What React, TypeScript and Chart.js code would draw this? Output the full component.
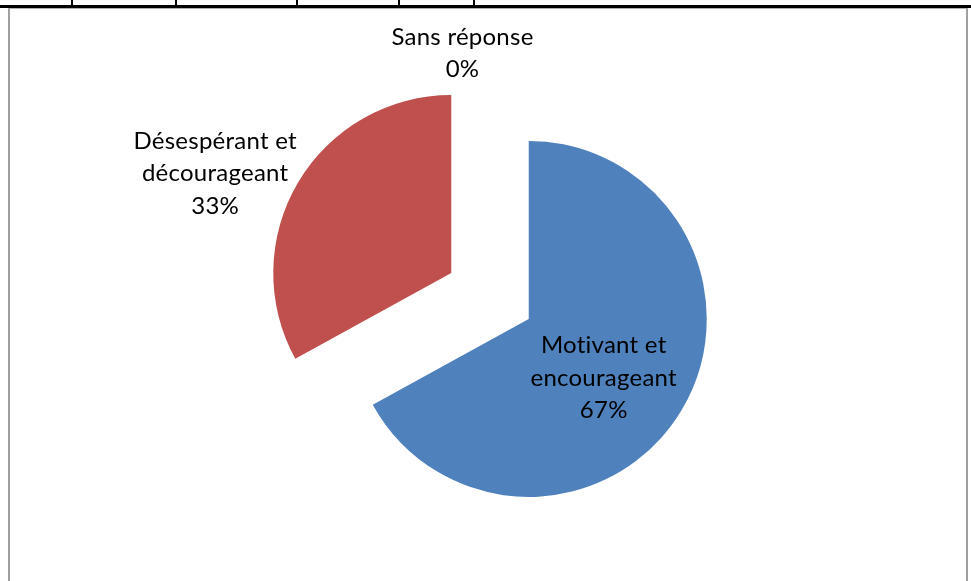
import React, { useEffect, useRef } from "react";
import { Chart, registerables } from "chart.js";

Chart.register(...registerables);

const categories: string[] = [
  "Motivant et encourageant",
  "Désespérant et décourageant",
  "Sans réponse",
];
const values: number[] = [67, 33, 0];
const sliceColors: string[] = ["#4F81BD", "#C0504D", "#9BBB59"];

const tableColumnLines: number[] = [71, 175, 296, 398, 473];

const FONT_SIZE = 24;
const FONT_FAMILY = "Lato, 'Noto Sans', sans-serif";
const LINE_H = 32.5;
const RADIUS = 178;
const EXPLODE = [45, 45, 0];
const PLACEMENT = [
  { radial: 0.55, dx: -9.3, dy: 9.5 },
  { radial: 1.43, dx: -17, dy: 30 },
  { radial: 1.36, dx: -27.5, dy: -0.5 },
];

function wrap(ctx: CanvasRenderingContext2D, text: string, maxW: number): string[] {
  const words = text.split(" ");
  const lines: string[] = [];
  let cur = "";
  for (const w of words) {
    const t = cur ? cur + " " + w : w;
    if (ctx.measureText(t).width > maxW && cur) {
      lines.push(cur);
      cur = w;
    } else cur = t;
  }
  if (cur) lines.push(cur);
  return lines;
}

const explodePlugin = {
  id: "explodeSlices",
  afterDatasetsUpdate(chart: any) {
    const meta = chart.getDatasetMeta(0);
    const ca = chart.chartArea;
    const cx = (ca.left + ca.right) / 2;
    const cy = (ca.top + ca.bottom) / 2;
    meta.data.forEach((el: any, i: number) => {
      const mid = (el.startAngle + el.endAngle) / 2;
      el.x = cx + Math.cos(mid) * (EXPLODE[i] || 0);
      el.y = cy + Math.sin(mid) * (EXPLODE[i] || 0);
    });
  },
};

const labelPlugin = {
  id: "sliceLabels",
  afterDraw(chart: any) {
    const ctx: any = chart.ctx;
    const meta = chart.getDatasetMeta(0);
    const data: number[] = chart.data.datasets[0].data;
    const total = data.reduce((a, b) => a + b, 0);
    ctx.save();
    ctx.font = `${FONT_SIZE}px ${FONT_FAMILY}`;
    try {
      ctx.letterSpacing = "0.25px";
    } catch (e) {}
    ctx.fillStyle = "#000000";
    ctx.textAlign = "center";
    ctx.textBaseline = "middle";
    meta.data.forEach((el: any, i: number) => {
      const mid = (el.startAngle + el.endAngle) / 2;
      const p = PLACEMENT[i];
      const x = el.x + Math.cos(mid) * el.outerRadius * p.radial + p.dx;
      const y = el.y + Math.sin(mid) * el.outerRadius * p.radial + p.dy;
      const pct = Math.round((data[i] / total) * 100) + "%";
      const lines = [...wrap(ctx, chart.data.labels[i], 180), pct];
      const start = y - ((lines.length - 1) * LINE_H) / 2;
      lines.forEach((l, k) => ctx.fillText(l, x, start + k * LINE_H));
    });
    ctx.restore();
  },
};

export default function App() {
  const ref = useRef<HTMLCanvasElement | null>(null);
  useEffect(() => {
    if (!ref.current) return;
    const chart = new Chart(ref.current, {
      type: "pie",
      data: {
        labels: categories,
        datasets: [
          {
            data: values,
            backgroundColor: sliceColors,
            borderWidth: 0,
          },
        ],
      },
      options: {
        animation: false,
        responsive: false,
        devicePixelRatio: 1,
        radius: RADIUS,
        layout: { padding: { left: 9, right: 0, top: 11, bottom: 0 } },
        plugins: {
          legend: { display: false },
          tooltip: { enabled: false },
        },
      },
      plugins: [explodePlugin, labelPlugin],
    } as any);
    return () => chart.destroy();
  }, []);

  return (
    <div
      style={{
        position: "absolute",
        left: 0,
        top: 0,
        width: 971,
        height: 581,
        overflow: "hidden",
        background: "#ffffff",
      }}
    >
      {tableColumnLines.map((x) => (
        <div
          key={x}
          style={{ position: "absolute", left: x, top: 0, width: 2, height: 6, background: "#000" }}
        />
      ))}
      <div style={{ position: "absolute", left: 0, top: 5, width: 971, height: 3, background: "#000" }} />
      <div
        style={{
          position: "absolute",
          left: 8,
          top: 8,
          width: 956,
          height: 600,
          borderLeft: "2px solid #a0a0a0",
          borderRight: "2px solid #a0a0a0",
          borderTop: "1px solid #b0b0b0",
        }}
      />
      <canvas
        ref={ref}
        width={971}
        height={581}
        style={{ position: "absolute", left: 0, top: 0, width: 971, height: 581 }}
      />
    </div>
  );
}
